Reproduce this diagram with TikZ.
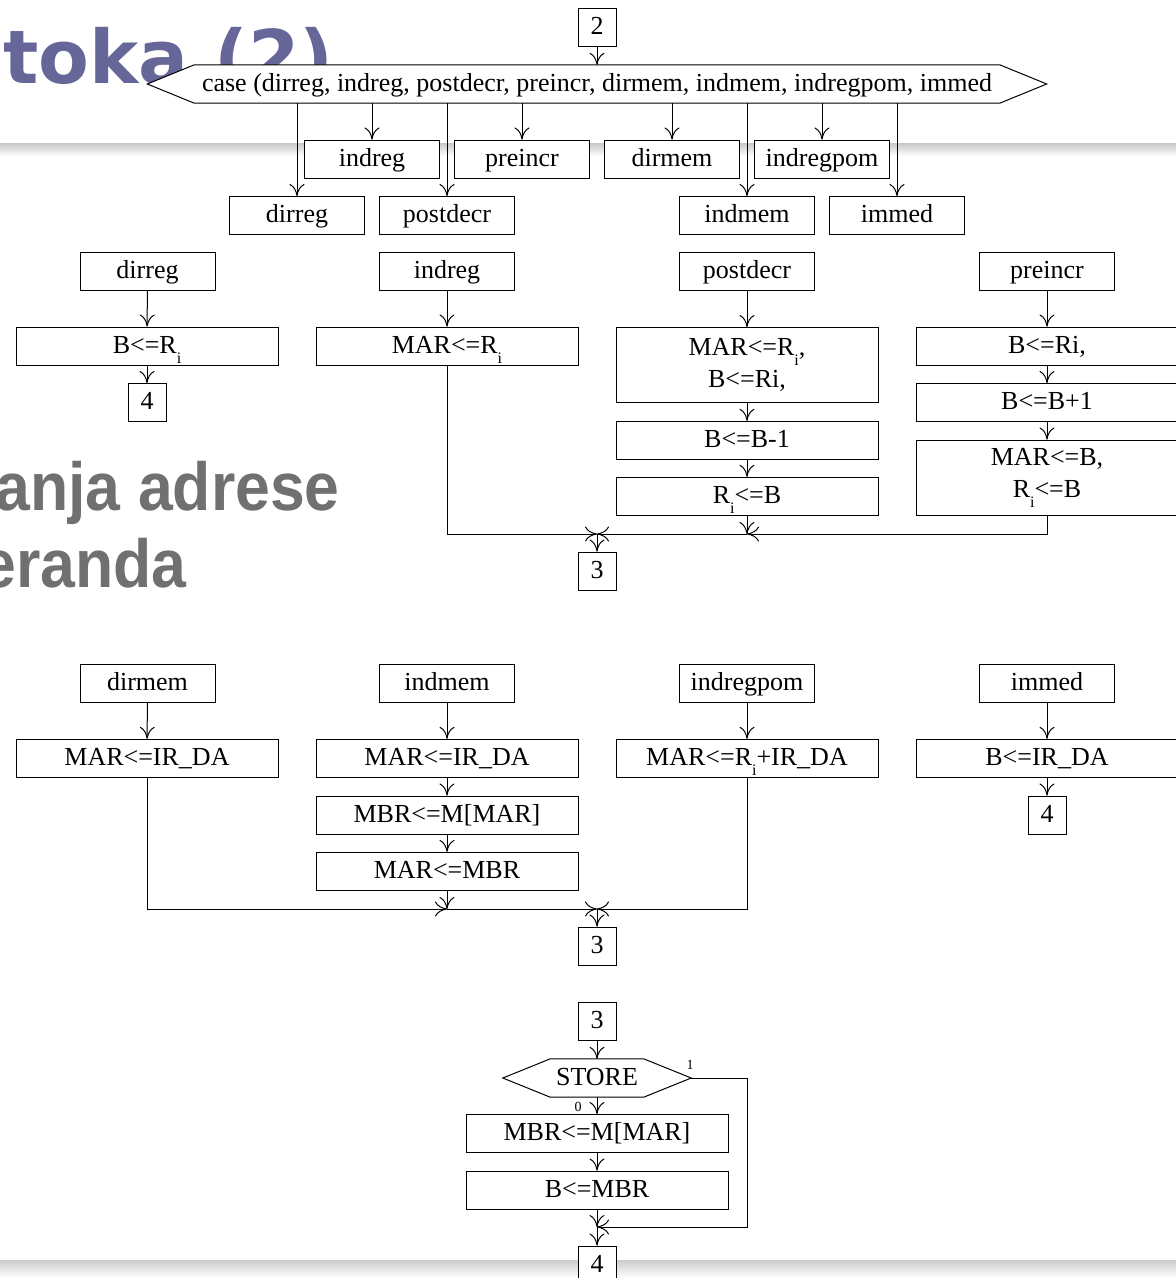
\documentclass[tikz,border=0pt]{standalone}
\usepackage{fontspec}
\setmainfont{Liberation Serif}
\newfontfamily\titlefont{DejaVu Sans}
\newfontfamily\headfont{Liberation Sans}
\usetikzlibrary{arrows.meta}

\definecolor{titleblue}{RGB}{102,102,153}
\definecolor{slidegray}{RGB}{112,112,112}

% register name with a lowered index letter
\newcommand\RegI{R\raisebox{-10pt}{\fontsize{16}{16}\selectfont i}}

\pgfdeclarelayer{backdrop}
\pgfdeclarelayer{outline}
\pgfsetlayers{backdrop,outline,main}

\tikzset{
  basebox/.style={draw, fill=white, line width=1pt, rectangle, inner sep=0pt,
              minimum height=38pt, align=center,
              font=\fontsize{26}{32}\selectfont},
  box/.style={basebox, text height=19pt, text depth=5pt},
  tagbox/.style={box, minimum width=135pt},
  opbox/.style={box, minimum width=262pt},
  tallbox/.style={basebox, minimum width=262pt, minimum height=75pt},
  numbox/.style={box, minimum width=38pt},
  flow/.style={line width=1pt, -{Computer Modern Rightarrow[length=12pt,width=15pt]}},
  edgelabel/.style={inner sep=0pt, font=\fontsize{14}{14}\selectfont},
}

\begin{document}
\begin{tikzpicture}[x=1pt,y=-1pt]
\useasboundingbox (0,0) rectangle (1176,1278);

% slide backdrop: rules and title fragments
\begin{pgfonlayer}{backdrop}
  \shade[top color=black!22, bottom color=white] (0,143) rectangle (1176,156);
  \shade[top color=black!20, bottom color=white] (0,1260) rectangle (1176,1278);
  \node[anchor=base west, inner sep=0pt, text=titleblue,
        font=\titlefont\bfseries\fontsize{74}{80}\selectfont] (title) at (3,83) {toka (2)};
  \node[anchor=base east, inner sep=0pt, text=slidegray,
        font=\headfont\bfseries\fontsize{68}{72}\selectfont] (subA) at (340,510) {\scalebox{0.92}[1]{anja adrese}};
  \node[anchor=base east, inner sep=0pt, text=slidegray,
        font=\headfont\bfseries\fontsize{68}{72}\selectfont] (subB) at (187,587) {\scalebox{0.92}[1]{eranda}};
\end{pgfonlayer}

% ---------- entry and multiway branch ----------
\node[numbox] (n2) at (597,27.5) {2};
\node[rectangle, inner sep=0pt, minimum width=805pt, minimum height=38pt,
      text height=19pt, text depth=5pt,
      font=\fontsize{26}{32}\selectfont] (case) at (597,84)
      {case (dirreg, indreg, postdecr, preincr, dirmem, indmem, indregpom, immed};
\begin{pgfonlayer}{outline}
  \draw[line width=1pt, fill=white] (case.north west) -- (case.north east)
    -- ([xshift=47pt]case.east) -- (case.south east) -- (case.south west)
    -- ([xshift=-47pt]case.west) -- cycle;
\end{pgfonlayer}

\node[tagbox] (tIndreg)    at (372,159)   {indreg};
\node[tagbox] (tPreincr)   at (522,159)   {preincr};
\node[tagbox] (tDirmem)    at (672,159)   {dirmem};
\node[tagbox] (tIndregpom) at (822,159)   {indregpom};
\node[tagbox] (tDirreg)    at (297,215.5) {dirreg};
\node[tagbox] (tPostdecr)  at (447,215.5) {postdecr};
\node[tagbox] (tIndmem)    at (747,215.5) {indmem};
\node[tagbox] (tImmed)     at (897,215.5) {immed};

\draw[flow] (n2) -- (case);
\foreach \t in {tDirreg,tIndreg,tPostdecr,tPreincr,tDirmem,tIndmem,tIndregpom,tImmed}
  \draw[flow] (case.south -| \t) -- (\t);

% ---------- register modes ----------
\node[tagbox] (h1) at (147.5,271) {dirreg};
\node[tagbox] (h2) at (447,271)   {indreg};
\node[tagbox] (h3) at (747,271)   {postdecr};
\node[tagbox] (h4) at (1047,271)  {preincr};

\node[opbox]  (a1) at (147,346)   {B<=\RegI};
\node[numbox] (a2) at (147,402.5) {4};

\node[opbox]  (b1) at (447,346)   {MAR<=\RegI};

\node[tallbox] (p1) at (747,365)   {MAR<=\RegI,\\B<=Ri,};
\node[opbox]   (p2) at (747,440.3) {B<=B-1};
\node[opbox]   (p3) at (747,496.3) {\RegI<=B};

\node[opbox]   (q1) at (1047,346)   {B<=Ri,};
\node[opbox]   (q2) at (1047,402.5) {B<=B+1};
\node[tallbox] (q3) at (1047,477.5) {MAR<=B,\\\RegI<=B};

\coordinate (j1) at (597,534);
\coordinate (k1) at (747,534);
\node[numbox] (n3a) at (597,571) {3};

\draw[flow] (h1) -- (a1);
\draw[flow] (a1) -- (a2);
\draw[flow] (h2) -- (b1);
\draw[flow] (b1) |- (j1);
\draw[flow] (h3) -- (p1);
\draw[flow] (p1) -- (p2);
\draw[flow] (p2) -- (p3);
\draw[flow] (p3) -- (k1);
\draw[flow] (h4) -- (q1);
\draw[flow] (q1) -- (q2);
\draw[flow] (q2) -- (q3);
\draw[flow] (q3) |- (k1);
\draw[flow] (k1) -- (j1);
\draw[flow] (j1) -- (n3a);

% ---------- memory and immediate modes ----------
\node[tagbox] (g1) at (147.5,683.3) {dirmem};
\node[tagbox] (g2) at (447,683.3)   {indmem};
\node[tagbox] (g3) at (747,683.3)   {indregpom};
\node[tagbox] (g4) at (1047,683.3)  {immed};

\node[opbox] (d1) at (147,758.3) {MAR<=IR\_DA};
\node[opbox] (m1) at (447,758.3) {MAR<=IR\_DA};
\node[opbox] (m2) at (447,815)   {MBR<=M[MAR]};
\node[opbox] (m3) at (447,871.4) {MAR<=MBR};
\node[opbox] (r1) at (747,758.3) {MAR<=\RegI+IR\_DA};
\node[opbox] (i1) at (1047,758.3) {B<=IR\_DA};
\node[numbox] (i2) at (1047,815) {4};

\coordinate (j2) at (597,909);
\coordinate (k2) at (447,909);
\node[numbox] (n3b) at (597,946) {3};

\draw[flow] (g1) -- (d1);
\draw[flow] (d1) |- (k2);
\draw[flow] (k2) -- (j2);
\draw[flow] (g2) -- (m1);
\draw[flow] (m1) -- (m2);
\draw[flow] (m2) -- (m3);
\draw[flow] (m3) -- (k2);
\draw[flow] (g3) -- (r1);
\draw[flow] (r1) |- (j2);
\draw[flow] (g4) -- (i1);
\draw[flow] (i1) -- (i2);
\draw[flow] (j2) -- (n3b);

% ---------- operand fetch ----------
\node[numbox] (n3c) at (597,1021) {3};
\node[rectangle, inner sep=0pt, minimum width=93pt, minimum height=38pt,
      text height=19pt, text depth=5pt,
      font=\fontsize{26}{32}\selectfont] (store) at (597,1078) {STORE};
\begin{pgfonlayer}{outline}
  \draw[line width=1pt, fill=white] (store.north west) -- (store.north east)
    -- ([xshift=47.5pt]store.east) -- (store.south east) -- (store.south west)
    -- ([xshift=-47.5pt]store.west) -- cycle;
\end{pgfonlayer}
\coordinate (storetip) at ([xshift=47.5pt]store.east);

\node[opbox] (s1) at (597,1133.5) {MBR<=M[MAR]};
\node[opbox] (s2) at (597,1190)   {B<=MBR};
\coordinate (j3) at (597,1227);
\coordinate (loopc) at (747,1227);
\node[numbox] (n4) at (597,1265) {4};

\node[edgelabel] (lab1) at (690,1065) {1};
\node[edgelabel] (lab0) at (578,1107) {0};

\draw[flow] (n3c) -- (store);
\draw[flow] (store) -- (s1);
\draw[flow] (s1) -- (s2);
\draw[flow] (s2) -- (j3);
\draw[flow] (storetip) -| (loopc) -- (j3);
\draw[flow] (j3) -- (n4);

\end{tikzpicture}
\end{document}
